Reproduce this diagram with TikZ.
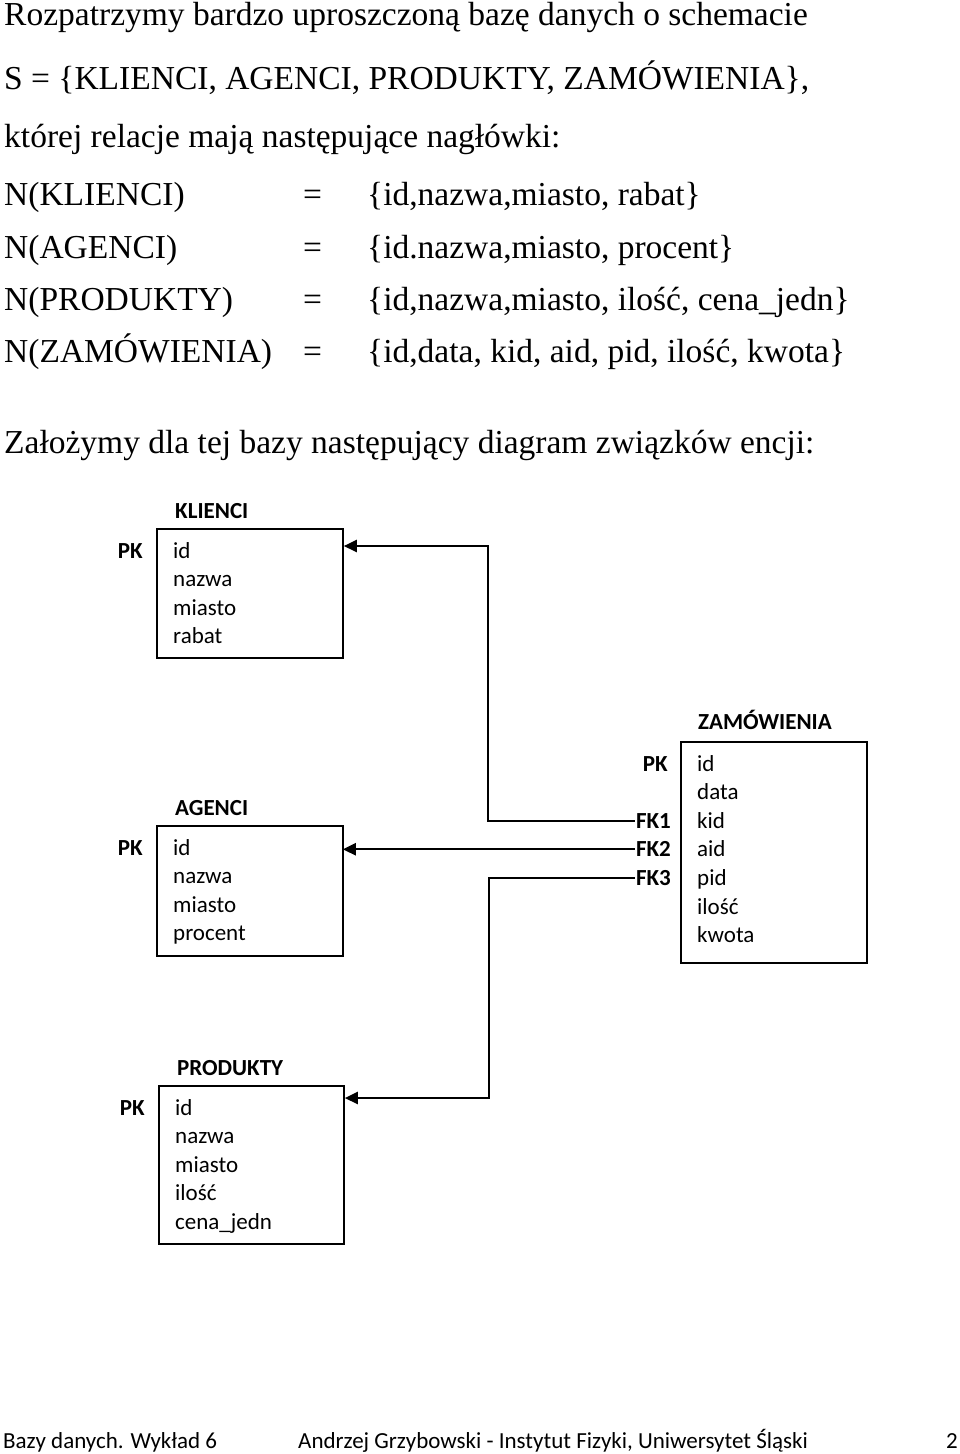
\documentclass[tikz,border=0pt]{standalone}
\usepackage{fontspec}
\setmainfont{Liberation Serif}
\newfontfamily\calib{Carlito}
\usetikzlibrary{arrows.meta}
\tikzset{
  toptext/.style={anchor=base west, inner sep=0pt, font=\fontsize{33.5}{40}\selectfont},
  tabtitle/.style={anchor=base west, inner sep=0pt, font=\calib\bfseries\fontsize{23}{28}\selectfont},
  field/.style={anchor=base west, inner sep=0pt, font=\calib\fontsize{23}{28}\selectfont},
  keylab/.style={anchor=base east, inner sep=0pt, font=\calib\bfseries\fontsize{23}{28}\selectfont},
  footer/.style={anchor=base west, inner sep=0pt, font=\calib\fontsize{23}{28}\selectfont},
  tbl/.style={draw, line width=1.8pt, anchor=north west, inner sep=0pt},
  conn/.style={line width=2.4pt, -{Triangle[length=13pt,width=12pt]}},
}
\begin{document}
\begin{tikzpicture}[x=1pt,y=-1pt]
\useasboundingbox[fill=white] (0,0) rectangle (960,1454);

% top text
\node[toptext] (t1) at (4,25) {Rozpatrzymy bardzo uproszczoną bazę danych o schemacie};
\node[toptext] (t2) at (4,89) {S = \{KLIENCI, AGENCI, PRODUKTY, ZAMÓWIENIA\},};
\node[toptext] (t3) at (4,147) {której relacje mają następujące nagłówki:};
\node[toptext] (n1) at (4,205) {N(KLIENCI)};
\node[toptext] (n2) at (4,258) {N(AGENCI)};
\node[toptext] (n3) at (4,310) {N(PRODUKTY)};
\node[toptext] (n4) at (4,362) {N(ZAMÓWIENIA)};
\node[toptext] (e1) at (303,205) {=};
\node[toptext] (e2) at (303,258) {=};
\node[toptext] (e3) at (303,310) {=};
\node[toptext] (e4) at (303,362) {=};
\node[toptext] (s1) at (367,205) {\{id,nazwa,miasto, rabat\}};
\node[toptext] (s2) at (367,258) {\{id.nazwa,miasto, procent\}};
\node[toptext] (s3) at (367,310) {\{id,nazwa,miasto, ilość, cena\_jedn\}};
\node[toptext] (s4) at (367,362) {\{id,data, kid, aid, pid, ilość, kwota\}};
\node[toptext] (t4) at (4,453) {Założymy dla tej bazy następujący diagram związków encji:};

% KLIENCI
\node[tbl, minimum width=186pt, minimum height=129pt] (kl) at (156,528) {};
\node[tabtitle] (klt) at (175,518) {KLIENCI};
\node[keylab] (klpk) at (143,558) {PK};
\foreach \t [count=\i] in {id,nazwa,miasto,rabat}
  \node[field] (klf\i) at (173,{558+28.6*(\i-1)}) {\t};

% AGENCI
\node[tbl, minimum width=186pt, minimum height=130pt] (ag) at (156,825) {};
\node[tabtitle] (agt) at (175,815) {AGENCI};
\node[keylab] (agpk) at (143,855) {PK};
\foreach \t [count=\i] in {id,nazwa,miasto,procent}
  \node[field] (agf\i) at (173,{855+28.6*(\i-1)}) {\t};

% PRODUKTY
\node[tbl, minimum width=185pt, minimum height=158pt] (pr) at (158,1085) {};
\node[tabtitle] (prt) at (177,1075) {PRODUKTY};
\node[keylab] (prpk) at (145,1115) {PK};
\foreach \t [count=\i] in {id,nazwa,miasto,ilość,cena\_jedn}
  \node[field] (prf\i) at (175,{1115+28.6*(\i-1)}) {\t};

% ZAMOWIENIA
\node[tbl, minimum width=186pt, minimum height=221pt] (za) at (680,741) {};
\node[tabtitle] (zat) at (698,729) {ZAMÓWIENIA};
\foreach \t [count=\i] in {id,data,kid,aid,pid,ilość,kwota}
  \node[field] (zaf\i) at (697,{771+28.6*(\i-1)}) {\t};
\node[keylab] (zapk) at (668,771) {PK};
\node[keylab] (fk1) at (671,{771+28.6*2}) {FK1};
\node[keylab] (fk2) at (671,{771+28.6*3}) {FK2};
\node[keylab] (fk3) at (671,{771+28.6*4}) {FK3};

% connectors
\coordinate (c1) at (488,546);
\coordinate (c3) at (489,1098);
\draw[conn] ([xshift=-1pt]fk1.west) -| (c1) -- (c1 -| kl.east);
\draw[conn] ([xshift=-1pt]fk2.west) -- ([xshift=-1pt]fk2.west -| ag.east);
\draw[conn] ([xshift=-1pt]fk3.west) -| (c3) -- (c3 -| pr.east);

% footer
\node[footer] (f1) at (3,1448) {Bazy danych. Wykład 6};
\node[footer] (f2) at (298,1448) {Andrzej Grzybowski - Instytut Fizyki, Uniwersytet Śląski};
\node[footer, anchor=base east] (f3) at (958,1448) {2};
\end{tikzpicture}
\end{document}
